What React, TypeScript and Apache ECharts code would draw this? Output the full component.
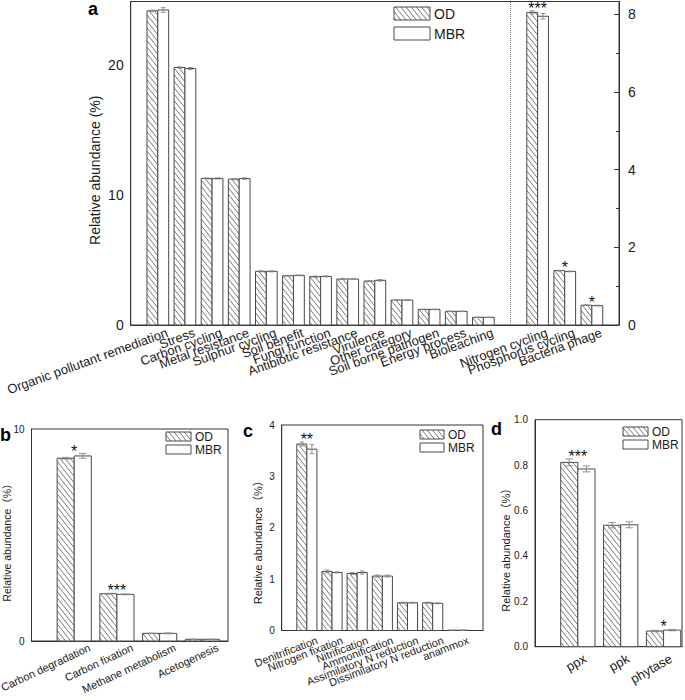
import React, { useEffect, useRef } from 'react';
import * as echarts from 'echarts';

const FONT = "'Liberation Sans', Arial, Helvetica, 'Noto Sans CJK SC', sans-serif";
const SERIES_NAMES = ['OD', 'MBR'];
const Y_NAME_A = 'Relative abundance (%)';
const Y_NAME = 'Relative abundance（%）';

// ---------- panel a (left axis) ----------
const aLeftCats = [
  'Organic pollutant remediation', 'Stress', 'Carbon cycling', 'Metal resistance', 'Sulphur cycling',
  'Soil benefit', 'Fungi function', 'Antibiotic resistance', 'Virulence', 'Other category',
  'Soil borne pathogen', 'Energy process', 'Bioleaching',
];
const aLeftOD = [24.18, 19.82, 11.28, 11.23, 4.13, 3.79, 3.72, 3.54, 3.38, 1.92, 1.2, 1.05, 0.59];
const aLeftODErr = [0.06, 0.05, 0.04, 0.04, 0.04, 0.03, 0.05, 0.03, 0.04, 0.02, 0.02, 0.02, 0.01];
const aLeftMBR = [24.25, 19.74, 11.28, 11.27, 4.13, 3.82, 3.74, 3.54, 3.44, 1.92, 1.2, 1.05, 0.59];
const aLeftMBRErr = [0.18, 0.08, 0.05, 0.06, 0.04, 0.03, 0.04, 0.02, 0.06, 0.02, 0.02, 0.02, 0.01];
const aLeftStars = ['', '', '', '', '', '', '', '', '', '', '', '', ''];
const aLeftTicks = [0, 10, 20];

// ---------- panel a (right axis) ----------
const aRightCats = ['Nitrogen cycling', 'Phosphorus cycling', 'Bacteria phage'];
const aRightOD = [8.05, 1.4, 0.51];
const aRightODErr = [0.04, 0.01, 0.01];
const aRightMBR = [7.95, 1.38, 0.5];
const aRightMBRErr = [0.07, 0.01, 0.01];
const aRightStars = ['***', '*', '*'];
const aRightTicks = [0, 2, 4, 6, 8];

// ---------- panel b ----------
const bCats = ['Carbon degradation', 'Carbon fixation', 'Methane metabolism', 'Acetogenesis'];
const bOD = [8.62, 2.23, 0.36, 0.08];
const bODErr = [0.04, 0.02, 0.01, 0.005];
const bMBR = [8.73, 2.2, 0.36, 0.08];
const bMBRErr = [0.11, 0.02, 0.02, 0.005];
const bStars = ['*', '***', '', ''];
const bTicks = [0, 10];

// ---------- panel c ----------
const cCats = [
  'Denitrification', 'Nitrogen fixation', 'Nitrification', 'Ammonification',
  'Assimilatory N reduction', 'Dissimilatory N reduction', 'anammox',
];
const cOD = [3.63, 1.15, 1.11, 1.06, 0.54, 0.54, 0.006];
const cODErr = [0.04, 0.03, 0.02, 0.02, 0.01, 0.01, 0.001];
const cMBR = [3.53, 1.13, 1.13, 1.06, 0.54, 0.53, 0.006];
const cMBRErr = [0.09, 0.01, 0.03, 0.02, 0.01, 0.01, 0.001];
const cStars = ['**', '', '', '', '', '', ''];
const cTicks = [0, 1, 2, 3, 4];

// ---------- panel d ----------
const dCats = ['ppx', 'ppk', 'phytase'];
const dOD = [0.812, 0.535, 0.069];
const dODErr = [0.015, 0.012, 0.003];
const dMBR = [0.783, 0.537, 0.073];
const dMBRErr = [0.013, 0.013, 0.003];
const dStars = ['***', '', '*'];
const dTicks = [0, 0.2, 0.4, 0.6, 0.8, 1.0];

// ---------- styling ----------
const AXIS_COLOR = '#333';
const BAR_BORDER = '#4a4a4a';
const HATCH_COLOR = '#555';
const ERR_COLOR = '#888';
const TEXT_COLOR = '#1a1a1a';
const BAR_FRAC = 0.4;
const HATCH_SPACING = 6.5;
const HATCH_SLOPE = 1.25;
const A_RIGHT_START = aLeftCats.length + 1;

function hatchLines(x0: number, y0: number, x1: number, y1: number, style: any) {
  const out: any[] = [];
  if (x1 - x0 < 0.5 || y1 - y0 < 0.5) return out;
  const k = HATCH_SLOPE;
  const s = HATCH_SPACING;
  const cMin = y0 - k * x1;
  const cMax = y1 - k * x0;
  for (let n = Math.ceil(cMin / s); n * s <= cMax; n++) {
    const c = n * s;
    const xa = Math.max(x0, (y0 - c) / k);
    const xb = Math.min(x1, (y1 - c) / k);
    if (xb - xa > 0.05) {
      out.push({ type: 'line', shape: { x1: xa, y1: k * xa + c, x2: xb, y2: k * xb + c }, style });
    }
  }
  return out;
}

function makeRender(kind: 'OD' | 'MBR', od: number[], odErr: number[], mbr: number[], mbrErr: number[], stars: string[]) {
  return (params: any, api: any) => {
    const idx = params.dataIndex;
    const x = api.value(0);
    const v = api.value(1);
    const e = api.value(2);
    const step = api.size([1, 0])[0];
    const bw = step * BAR_FRAC;
    const p0 = api.coord([x, 0]);
    const p1 = api.coord([x, v]);
    const cx = p0[0];
    const left = kind === 'OD' ? cx - bw : cx;
    const top = p1[1];
    const bottom = p0[1];
    const children: any[] = [];
    children.push({ type: 'rect', shape: { x: left, y: top, width: bw, height: bottom - top }, style: { fill: '#fff', stroke: null } });
    if (kind === 'OD') {
      children.push(...hatchLines(left, top, left + bw, bottom, { stroke: HATCH_COLOR, lineWidth: 0.8 }));
    }
    children.push({ type: 'rect', shape: { x: left, y: top, width: bw, height: bottom - top }, style: { fill: null, stroke: BAR_BORDER, lineWidth: 1 } });
    // error bar
    const bc = left + bw / 2;
    const eTop = api.coord([x, v + e])[1];
    const eBot = api.coord([x, Math.max(0, v - e)])[1];
    const cap = bw * 0.22;
    const es = { stroke: ERR_COLOR, lineWidth: 0.9 };
    children.push({ type: 'line', shape: { x1: bc, y1: eTop, x2: bc, y2: eBot }, style: es });
    children.push({ type: 'line', shape: { x1: bc - cap, y1: eTop, x2: bc + cap, y2: eTop }, style: es });
    children.push({ type: 'line', shape: { x1: bc - cap, y1: eBot, x2: bc + cap, y2: eBot }, style: es });
    if (kind === 'OD' && stars[idx]) {
      const maxTop = Math.max(od[idx] + odErr[idx], mbr[idx] + mbrErr[idx]);
      const sy = api.coord([x, maxTop])[1] - 2.5;
      children.push({
        type: 'text',
        style: { text: stars[idx], x: cx, y: sy, align: 'center', verticalAlign: 'middle', fontSize: 16, fontFamily: FONT, fill: '#111', opacity: 1 },
      });
    }
    return { type: 'group', children };
  };
}

function customSeries(name: string, kind: 'OD' | 'MBR', xi: number, yi: number, xs: number[], vals: number[], errs: number[],
  od: number[], odErr: number[], mbr: number[], mbrErr: number[], stars: string[], extra: any = {}) {
  return {
    type: 'custom',
    name,
    xAxisIndex: xi,
    yAxisIndex: yi,
    encode: { x: 0, y: 1 },
    itemStyle: { color: '#222' },
    data: vals.map((v, i) => [xs[i], v, errs[i]]),
    renderItem: makeRender(kind, od, odErr, mbr, mbrErr, stars),
    ...extra,
  };
}

function legendGraphic(x: number, y: number, w: number, h: number, gap: number, fontSize: number) {
  const els: any[] = [];
  SERIES_NAMES.forEach((nm, i) => {
    const by = y + i * gap;
    els.push({ type: 'rect', shape: { x, y: by, width: w, height: h }, style: { fill: '#fff', stroke: null } });
    if (nm === 'OD') els.push(...hatchLines(x, by, x + w, by + h, { stroke: HATCH_COLOR, lineWidth: 0.8 }));
    els.push({ type: 'rect', shape: { x, y: by, width: w, height: h }, style: { fill: null, stroke: BAR_BORDER, lineWidth: 1 } });
    els.push({
      type: 'text',
      style: { text: nm, x: x + w + 4, y: by + h / 2, verticalAlign: 'middle', align: 'left', fontSize, fontFamily: FONT, fill: TEXT_COLOR },
    });
  });
  return els;
}

function catFormatter(cats: string[], start = 0, cats2: string[] = [], start2 = -100) {
  return (v: number) => {
    const i = Math.round(v);
    if (Math.abs(v - i) > 1e-6) return '';
    if (i - start >= 0 && i - start < cats.length) return cats[i - start];
    if (i - start2 >= 0 && i - start2 < cats2.length) return cats2[i - start2];
    return '';
  };
}

function tickFormatter(ticks: number[], digits = 0) {
  return (v: number) => {
    const hit = ticks.find((t) => Math.abs(t - v) < 1e-6);
    return hit === undefined ? '' : hit.toFixed(digits);
  };
}

function xAxisBase(gridIndex: number, min: number, max: number, rotate: number, fontSize: number, formatter: any,
  margin: number, shift: number) {
  return {
    type: 'value', gridIndex, min, max, interval: 1,
    axisLine: { show: true, onZero: false, lineStyle: { color: AXIS_COLOR, width: 1 } },
    axisTick: { show: false }, splitLine: { show: false },
    axisLabel: {
      rotate, fontSize, margin, color: TEXT_COLOR, fontFamily: FONT, formatter, hideOverlap: false,
      padding: [0, -shift, 0, 0],
    },
  };
}

function yAxisBase(gridIndex: number, max: number, interval: number, fontSize: number, ticks: number[], digits: number,
  name: string, nameSize: number, nameGap: number, namePadRight: number) {
  return {
    type: 'value', gridIndex, min: 0, max, interval, position: 'left',
    axisLine: { show: true, onZero: false, lineStyle: { color: AXIS_COLOR, width: 1 } },
    axisTick: { show: false }, splitLine: { show: false },
    axisLabel: { fontSize, margin: 7, color: TEXT_COLOR, fontFamily: FONT, formatter: tickFormatter(ticks, digits) },
    name, nameLocation: 'middle', nameGap, nameMoveOverlap: false,
    nameTextStyle: { fontSize: nameSize, color: TEXT_COLOR, fontFamily: FONT, padding: [0, namePadRight, 0, 0] },
  };
}

export default function App() {
  const ref = useRef<HTMLDivElement>(null);
  useEffect(() => {
    if (!ref.current) return;
    const chart = echarts.init(ref.current, undefined, { renderer: 'svg' });
    const gridStyle = {
      show: true, borderColor: AXIS_COLOR, borderWidth: 1, backgroundColor: 'transparent',
      containLabel: false, outerBoundsMode: 'none',
    };
    const aLeftX = aLeftCats.map((_, i) => i);
    const aRightX = aRightCats.map((_, i) => A_RIGHT_START + i);
    const bX = bCats.map((_, i) => i);
    const cX = cCats.map((_, i) => i);
    const dX = dCats.map((_, i) => i);

    const option: any = {
      animation: false,
      backgroundColor: '#fff',
      textStyle: { fontFamily: FONT },
      grid: [
        { ...gridStyle, left: 130.7, top: 1.5, width: 488.3, height: 323.5 },
        { ...gridStyle, left: 31.5, top: 429, width: 196.5, height: 212 },
        { ...gridStyle, left: 281.7, top: 425, width: 201.3, height: 205.5 },
        { ...gridStyle, left: 535, top: 419.7, width: 147, height: 227 },
      ],
      xAxis: [
        xAxisBase(0, -1, 17, 20, 13, catFormatter(aLeftCats, 0, aRightCats, A_RIGHT_START), 10.5, 10),
        xAxisBase(1, -1, 3.6, 25, 11, catFormatter(bCats), 13, 17),
        xAxisBase(2, -1, 7, 21, 11, catFormatter(cCats), 13, 11),
        xAxisBase(3, -1, 2.43, 30, 13, catFormatter(dCats), 15, 8.5),
      ],
      yAxis: [
        yAxisBase(0, 24.9, 10, 14, aLeftTicks, 0, Y_NAME_A, 14, 29, 14),
        {
          type: 'value', gridIndex: 0, position: 'right', min: 0, max: 8.33, interval: 2,
          axisLine: { show: true, onZero: false, lineStyle: { color: AXIS_COLOR, width: 1 } },
          axisTick: { show: true, inside: true, length: 5, lineStyle: { color: AXIS_COLOR } },
          minorTick: { show: true, splitNumber: 2, length: 3, lineStyle: { color: AXIS_COLOR } },
          splitLine: { show: false },
          axisLabel: { fontSize: 14, margin: 9, color: TEXT_COLOR, fontFamily: FONT, formatter: tickFormatter(aRightTicks, 0) },
        },
        yAxisBase(1, 10, 10, 10, bTicks, 0, Y_NAME, 10.5, 19.5, 10),
        yAxisBase(2, 4, 1, 10, cTicks, 0, Y_NAME, 11, 18, 24),
        yAxisBase(3, 1, 0.2, 10, dTicks, 1, Y_NAME, 11, 23.5, 28),
      ],
      series: [
        customSeries('OD', 'OD', 0, 0, aLeftX, aLeftOD, aLeftODErr, aLeftOD, aLeftODErr, aLeftMBR, aLeftMBRErr, aLeftStars, {
          markLine: {
            silent: true, symbol: 'none', label: { show: false },
            lineStyle: { type: 'dotted', color: '#777', width: 1 },
            data: [{ xAxis: aLeftCats.length }],
          },
        }),
        customSeries('MBR', 'MBR', 0, 0, aLeftX, aLeftMBR, aLeftMBRErr, aLeftOD, aLeftODErr, aLeftMBR, aLeftMBRErr, aLeftStars),
        customSeries('OD', 'OD', 0, 1, aRightX, aRightOD, aRightODErr, aRightOD, aRightODErr, aRightMBR, aRightMBRErr, aRightStars),
        customSeries('MBR', 'MBR', 0, 1, aRightX, aRightMBR, aRightMBRErr, aRightOD, aRightODErr, aRightMBR, aRightMBRErr, aRightStars),
        customSeries('OD', 'OD', 1, 2, bX, bOD, bODErr, bOD, bODErr, bMBR, bMBRErr, bStars),
        customSeries('MBR', 'MBR', 1, 2, bX, bMBR, bMBRErr, bOD, bODErr, bMBR, bMBRErr, bStars),
        customSeries('OD', 'OD', 2, 3, cX, cOD, cODErr, cOD, cODErr, cMBR, cMBRErr, cStars),
        customSeries('MBR', 'MBR', 2, 3, cX, cMBR, cMBRErr, cOD, cODErr, cMBR, cMBRErr, cStars),
        customSeries('OD', 'OD', 3, 4, dX, dOD, dODErr, dOD, dODErr, dMBR, dMBRErr, dStars),
        customSeries('MBR', 'MBR', 3, 4, dX, dMBR, dMBRErr, dOD, dODErr, dMBR, dMBRErr, dStars),
      ],
      graphic: [
        ...legendGraphic(394, 7, 36, 13, 20, 14),
        ...legendGraphic(166, 432, 25, 9, 13, 12),
        ...legendGraphic(420, 430, 24, 9, 13, 12),
        ...legendGraphic(623, 427, 25, 9, 13, 12),
        { type: 'text', style: { text: 'a', x: 88, y: 0, verticalAlign: 'top', fontSize: 18, fontWeight: 'bold', fontFamily: FONT, fill: '#000' } },
        { type: 'text', style: { text: 'b', x: 0, y: 434.8, verticalAlign: 'middle', fontSize: 18, fontWeight: 'bold', fontFamily: FONT, fill: '#000' } },
        { type: 'text', style: { text: 'c', x: 243, y: 430.8, verticalAlign: 'middle', fontSize: 18, fontWeight: 'bold', fontFamily: FONT, fill: '#000' } },
        { type: 'text', style: { text: 'd', x: 491, y: 428.8, verticalAlign: 'middle', fontSize: 18, fontWeight: 'bold', fontFamily: FONT, fill: '#000' } },
      ],
    };
    chart.setOption(option);
    return () => chart.dispose();
  }, []);
  return <div ref={ref} style={{ position: 'absolute', left: 0, top: 0, width: 685, height: 700, background: '#fff' }} />;
}
